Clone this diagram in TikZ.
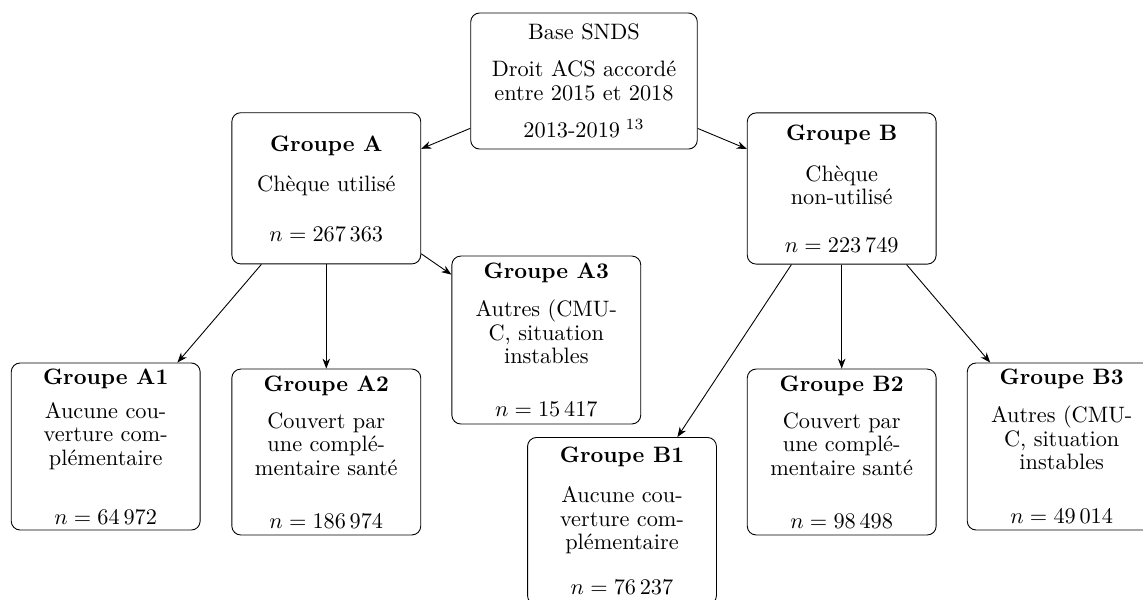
\documentclass[tikz,border=0pt]{standalone}
\usetikzlibrary{arrows.meta}
\begin{document}
\begin{tikzpicture}[x=0.4484pt,y=-0.4484pt,
  box/.style={draw, rounded corners=4pt, align=center, inner xsep=3pt, inner ysep=1pt,
    font=\fontsize{10pt}{10.5pt}\selectfont, minimum width=84.7pt},
  arr/.style={-{Stealth[length=4.5pt,width=3.4pt]}}]
\useasboundingbox (0,0) rectangle (1143,599);
\clip (0,0) rectangle (1143,599);
\node[box, minimum width=101.6pt, minimum height=61pt] (root) at (584,81)
  {Base SNDS\\[6.1pt] Droit ACS accordé\\entre 2015 et 2018\\[6.1pt] 2013-2019\hspace{2.5pt}$^{13}$};
\node[box, minimum height=67.8pt] (A) at (326.3,188.3)
  {\textbf{Groupe A}\\[7.4pt] Chèque utilisé\\[11.9pt] $n = 267\,363$};
\node[box, minimum height=67.8pt] (B) at (841.7,188.5)
  {\textbf{Groupe B}\\[7.9pt] Chèque\\non-utilisé\\[10.6pt] $n = 223\,749$};
\node[box, minimum height=75.3pt] (A3) at (546.3,340)
  {\textbf{Groupe A3}\\[6.5pt] Autres (CMU-\\C, situation\\instables\\[13.3pt] $n = 15\,417$};
\node[box, minimum height=74.9pt] (A1) at (105.7,446.5)
  {\textbf{Groupe A1}\\[4.8pt] Aucune cou-\\verture com-\\plémentaire\\[16pt] $n = 64\,972$};
\node[box, minimum height=74.4pt] (A2) at (326.3,452)
  {\textbf{Groupe A2}\\[6.1pt] Couvert par\\une complé-\\mentaire santé\\[13.3pt] $n = 186\,974$};
\node[box, minimum height=74.9pt] (B1) at (622,521)
  {\textbf{Groupe B1}\\[7.4pt] Aucune cou-\\verture com-\\plémentaire\\[9.7pt] $n = 76\,237$};
\node[box, minimum height=74.4pt] (B2) at (841.7,452)
  {\textbf{Groupe B2}\\[6.1pt] Couvert par\\une complé-\\mentaire santé\\[13.3pt] $n = 98\,498$};
\node[box, minimum height=74.9pt] (B3) at (1061.7,446.5)
  {\textbf{Groupe B3}\\[6.5pt] Autres (CMU-\\C, situation\\instables\\[13.7pt] $n = 49\,014$};
\draw[arr] (root) -- (A);
\draw[arr] (root) -- (B);
\draw[arr] (A) -- (A1);
\draw[arr] (A) -- (A2);
\draw[arr] (A) -- (A3);
\draw[arr] (B) -- (B1);
\draw[arr] (B) -- (B2);
\draw[arr] (B) -- (B3);
\end{tikzpicture}
\end{document}
